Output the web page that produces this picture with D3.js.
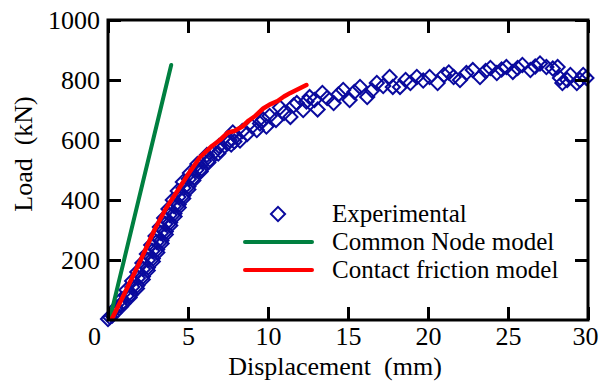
<!DOCTYPE html>
<html>
<head>
<meta charset="utf-8">
<script src="https://cdn.jsdelivr.net/npm/d3@7"></script>
<style>
  body { margin: 0; background: #fff; }
  svg text { font-family: "Liberation Serif", "Times New Roman", serif; fill: #000; white-space: pre; }
</style>
</head>
<body>
<svg id="chart"></svg>
<script>
// experimental load-displacement points (mm, kN)
const expX = [0.0, 0.12, 0.43, 0.50, 0.96, 0.86, 1.43, 1.15, 1.83, 1.51, 2.18, 1.83, 2.49, 2.15, 2.80, 2.43,
  3.07, 2.70, 3.34, 2.97, 3.61, 3.24, 3.88, 3.51, 4.15, 3.78, 4.41, 4.05, 4.71, 4.36, 5.02, 4.68, 5.38, 5.12,
  5.85, 5.59, 6.36, 6.18, 7.01, 6.94, 7.90,
  0.75, 1.16, 1.52, 1.87, 2.19, 2.50, 2.77, 3.04, 3.31, 3.58, 3.85, 4.12, 4.40, 4.72, 5.05, 5.52, 6.00, 6.65, 7.50,
  0.27, 0.82, 1.35, 1.81, 2.17, 2.48, 2.80, 3.08, 3.35, 3.61, 3.89, 4.16, 4.42, 4.70, 5.02, 5.33, 5.79, 6.27, 6.89, 7.70,
  7.6, 7.8, 8.0, 8.25, 8.4, 8.7, 9.0, 9.3, 9.5, 9.7, 9.9, 10.1, 10.5, 10.75, 11.0, 11.4, 11.6, 11.8, 12.2, 12.4,
  12.6, 12.9, 13.1, 13.4, 13.7, 14.1, 14.4, 14.7, 15.1, 15.4, 15.75, 16.2, 16.5, 16.8, 17.2, 17.6, 17.8, 18.25,
  18.6, 18.9, 19.3, 19.7, 20.1, 20.6, 21.0, 21.3, 21.6, 22.0, 22.4, 22.8, 23.25, 23.6, 23.9, 24.3, 24.6, 24.9,
  25.3, 25.6, 25.9, 26.4, 26.7, 27.0, 27.4, 27.8, 28.1, 28.25, 28.4, 28.7, 28.9, 29.3, 29.5, 29.7, 29.9];
const expY = [3, 10, 25, 40, 55, 70, 85, 100, 115, 130, 145, 160, 175, 190, 205, 220,
  235, 250, 265, 280, 295, 310, 325, 340, 355, 370, 385, 400, 415, 430, 445, 460, 475, 490,
  505, 520, 535, 550, 565, 580, 595,
  50, 80, 110, 140, 170, 200, 230, 260, 290, 320, 350, 380, 410, 440, 470, 500, 530, 560, 590,
  15, 45, 75, 105, 135, 165, 195, 225, 255, 285, 315, 345, 375, 405, 435, 465, 495, 525, 555, 585,
  600, 625, 612, 598, 630, 620, 645, 633, 655, 668, 645, 680, 667, 708, 690, 677, 715, 723, 700, 728,
  743, 733, 702, 757, 740, 723, 752, 767, 733, 760, 777, 743, 765, 790, 780, 810, 777, 777,
  800, 790, 810, 798, 810, 790, 817, 825, 810, 800, 823, 833, 810, 830, 840, 823, 835, 843,
  827, 840, 850, 833, 845, 855, 843, 838, 843, 807, 790, 800, 817, 790, 800, 817, 807];

// common node model
const nodeX = [0.12, 3.95];
const nodeY = [5, 850];

// contact friction model
const fricX = [0.25, 1.0, 2.0, 2.9, 3.6, 4.4, 5.0, 5.75, 6.5, 7.0, 7.5, 7.9, 8.4, 8.8, 9.2, 9.7, 10.1, 10.6, 11.0, 11.4, 11.9, 12.4];
const fricY = [5, 85, 195, 300, 370, 435, 485, 543, 580, 600, 625, 630, 645, 665, 680, 705, 718, 730, 745, 757, 770, 783];

const xTicks = [0, 5, 10, 15, 20, 25, 30];
const yTicks = [200, 400, 600, 800, 1000];

const width = 601, height = 383;
const margin = { left: 108, right: 13, top: 20, bottom: 63 };
const serif = "'Liberation Serif', 'Times New Roman', serif";

const svg = d3.select("#chart").attr("width", width).attr("height", height);

const x = d3.scaleLinear().domain([0, 30]).range([margin.left, width - margin.right]);
const y = d3.scaleLinear().domain([0, 1000]).range([height - margin.bottom, margin.top]);

const blue = "#0a0a9e", green = "#008040", red = "#ff0000";

// Experimental diamonds
const diamond = d3.symbol().type(d3.symbolSquare).size(100);
svg.append("g")
    .selectAll("path")
    .data(expX.map((d, i) => [d, expY[i]]))
    .enter()
    .append("path")
    .attr("d", diamond)
    .attr("transform", d => `translate(${x(d[0])},${y(d[1])}) rotate(45)`)
    .attr("fill", "none")
    .attr("stroke", blue)
    .attr("stroke-width", 2);

const line = d3.line().x(d => x(d[0])).y(d => y(d[1]));

svg.append("path")
    .datum(nodeX.map((d, i) => [d, nodeY[i]]))
    .attr("d", line)
    .attr("fill", "none")
    .attr("stroke", green)
    .attr("stroke-width", 4)
    .attr("stroke-linecap", "round");

svg.append("path")
    .datum(fricX.map((d, i) => [d, fricY[i]]))
    .attr("d", line)
    .attr("fill", "none")
    .attr("stroke", red)
    .attr("stroke-width", 4.5)
    .attr("stroke-linecap", "round")
    .attr("stroke-linejoin", "round");

// Axes (ticks point inward)
const axisStyle = g => {
    g.attr("font-family", serif).attr("font-size", 26);
    g.select(".domain").remove();
    g.selectAll(".tick line").attr("stroke", "#000").attr("stroke-width", 3);
    g.selectAll("text").style("font-family", serif).style("font-size", "26px");
};

svg.append("g")
    .attr("transform", `translate(0,${y(0)})`)
    .call(d3.axisBottom(x).tickValues(xTicks).tickSize(-13).tickPadding(7).tickFormat(d3.format("d")))
    .call(axisStyle)
    .call(g => g.selectAll(".tick text")
        .attr("dx", d => d === 0 ? -14 : d === 30 ? -3 : 0));

svg.append("g")
    .attr("transform", `translate(0,${y(1000)})`)
    .call(d3.axisTop(x).tickValues(xTicks).tickSize(-13).tickFormat(""))
    .call(axisStyle);

svg.append("g")
    .attr("transform", `translate(${x(0)},0)`)
    .call(d3.axisLeft(y).tickValues(yTicks).tickSize(-13).tickPadding(8).tickFormat(d3.format("d")))
    .call(axisStyle);

svg.append("g")
    .attr("transform", `translate(${x(30)},0)`)
    .call(d3.axisRight(y).tickValues(yTicks).tickSize(-13).tickFormat(""))
    .call(axisStyle);

// frame
svg.append("rect")
    .attr("x", x(0))
    .attr("y", y(1000))
    .attr("width", x(30) - x(0))
    .attr("height", y(0) - y(1000))
    .attr("fill", "none")
    .attr("stroke", "#000")
    .attr("stroke-width", 3);

// axis titles
svg.append("text")
    .attr("x", 335)
    .attr("y", 375)
    .attr("text-anchor", "middle")
    .style("font-size", "26px")
    .text("Displacement  (mm)");

svg.append("text")
    .attr("transform", "translate(32,154) rotate(-90)")
    .attr("text-anchor", "middle")
    .style("font-size", "26px")
    .text("Load  (kN)");

// legend
const legend = svg.append("g");
legend.append("path")
    .attr("d", diamond)
    .attr("transform", "translate(278,214) rotate(45)")
    .attr("fill", "none")
    .attr("stroke", blue)
    .attr("stroke-width", 2);
legend.append("line")
    .attr("x1", 245).attr("x2", 312).attr("y1", 242).attr("y2", 242)
    .attr("stroke", green).attr("stroke-width", 4).attr("stroke-linecap", "round");
legend.append("line")
    .attr("x1", 245).attr("x2", 312).attr("y1", 270).attr("y2", 270)
    .attr("stroke", red).attr("stroke-width", 4).attr("stroke-linecap", "round");

const legendLabels = ["Experimental", "Common Node model", "Contact friction model"];
legend.selectAll("text.lab")
    .data(legendLabels)
    .enter()
    .append("text")
    .attr("class", "lab")
    .attr("x", 332)
    .attr("y", (d, i) => 222 + i * 28)
    .style("font-size", "25px")
    .text(d => d);
</script>
</body>
</html>
